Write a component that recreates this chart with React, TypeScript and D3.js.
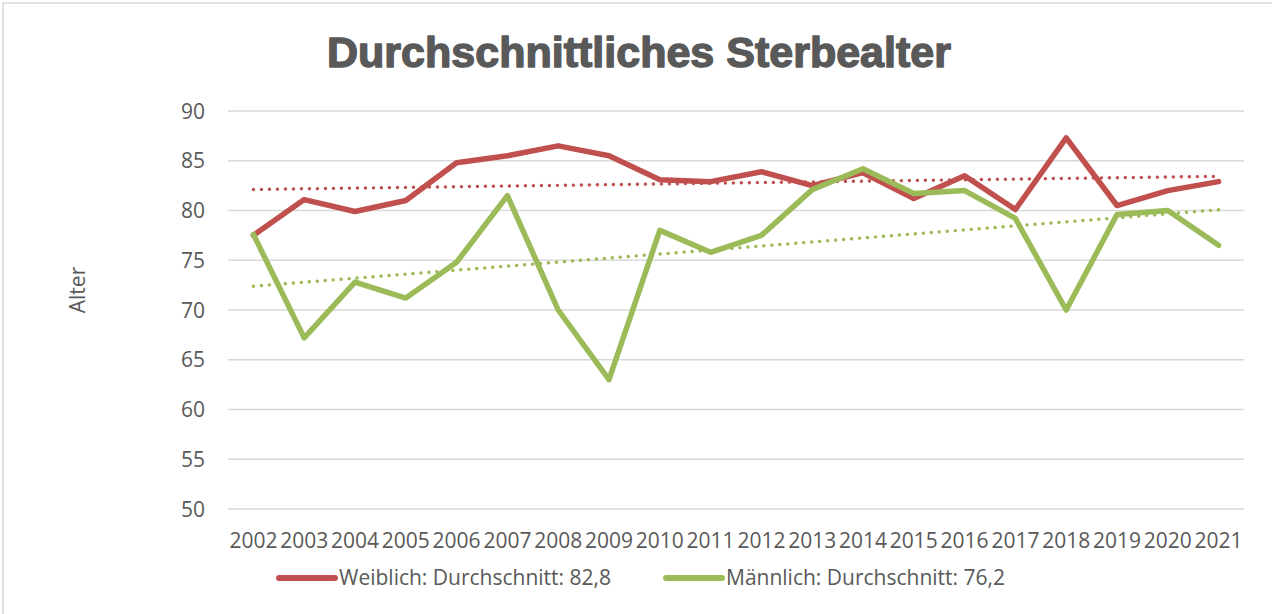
import React from 'react';
import * as d3 from 'd3';

// data
const years = ['2002', '2003', '2004', '2005', '2006', '2007', '2008', '2009', '2010', '2011',
  '2012', '2013', '2014', '2015', '2016', '2017', '2018', '2019', '2020', '2021'];
const weiblich = [77.5, 81.1, 79.9, 81.0, 84.8, 85.5, 86.5, 85.5, 83.1, 82.9,
  83.9, 82.5, 83.8, 81.2, 83.5, 80.1, 87.3, 80.5, 82.0, 82.9];
const maennlich = [77.6, 67.2, 72.8, 71.2, 74.8, 81.5, 70.0, 63.0, 78.0, 75.8,
  77.5, 82.1, 84.2, 81.7, 82.0, 79.2, 70.0, 79.6, 80.0, 76.5];
const yTicks = [50, 55, 60, 65, 70, 75, 80, 85, 90];
const legendLabels = ['Weiblich: Durchschnitt: 82,8', 'Männlich: Durchschnitt: 76,2'];

const W = 1272;
const H = 614;
const RED = '#C0504D';
const GREEN = '#9BBB59';
const TEXT = '#595959';
const FONT = '"Open Sans", sans-serif';

// least squares trend
function trend(values: number[]) {
  const idx = values.map((_, i) => i);
  const mx = d3.mean(idx)!;
  const my = d3.mean(values)!;
  const num = d3.sum(idx, (i) => (i - mx) * (values[i] - my));
  const den = d3.sum(idx, (i) => (i - mx) * (i - mx));
  const b = num / den;
  const a = my - b * mx;
  return values.map((_, i) => a + b * i);
}

export default function App() {
  const x = d3.scalePoint<string>().domain(years).range([228, 1244]).padding(0.5);
  const y = d3.scaleLinear().domain([50, 90]).range([509, 111]);

  const line = d3.line<number>()
    .x((_, i) => x(years[i])!)
    .y((d) => y(d));

  const series = [
    { values: weiblich, color: RED },
    { values: maennlich, color: GREEN },
  ];

  return (
    <svg width={W} height={H} style={{ position: 'absolute', left: 0, top: 0, background: '#fff' }}>
      <rect x={3} y={3} width={W + 10} height={H + 10} fill="#fff" stroke="#d9d9d9" strokeWidth={1.5} />

      <text x={327} y={67} fontFamily='"Liberation Sans", Arial, sans-serif' fontWeight="bold"
        fontSize={42} fill={TEXT} stroke={TEXT} strokeWidth={1.4} strokeLinejoin="round"
        textLength={624} lengthAdjust="spacingAndGlyphs">
        Durchschnittliches Sterbealter
      </text>

      {yTicks.map((t) => (
        <g key={t}>
          <line x1={228} x2={1244} y1={y(t)} y2={y(t)} stroke="#d9d9d9" strokeWidth={1.5} />
          <text x={205} y={y(t)} dy="0.36em" textAnchor="end" fontFamily={FONT} fontSize={21} fill={TEXT}>{t}</text>
        </g>
      ))}

      {years.map((yr) => (
        <text key={yr} x={x(yr)} y={548} textAnchor="middle" fontFamily={FONT} fontSize={21} fill={TEXT}>{yr}</text>
      ))}

      <text transform={`translate(85,290) rotate(-90)`} textAnchor="middle" fontFamily={FONT} fontSize={21} fill={TEXT}>Alter</text>

      {series.map((s, k) => (
        <path key={'t' + k} d={line(trend(s.values)) ?? ''} fill="none" stroke={s.color} strokeWidth={3.4}
          strokeDasharray="0.1 7.9" strokeLinecap="round" />
      ))}
      {series.map((s, k) => (
        <path key={'s' + k} d={line(s.values) ?? ''} fill="none" stroke={s.color} strokeWidth={5.5}
          strokeLinejoin="round" strokeLinecap="round" />
      ))}

      {[{ x0: 279, color: RED }, { x0: 666, color: GREEN }].map((l, i) => (
        <g key={i}>
          <line x1={l.x0} x2={l.x0 + 56} y1={578} y2={578} stroke={l.color} strokeWidth={6} strokeLinecap="round" />
          <text x={l.x0 + 60} y={585} fontFamily={FONT} fontSize={21} fill={TEXT}>{legendLabels[i]}</text>
        </g>
      ))}
    </svg>
  );
}
